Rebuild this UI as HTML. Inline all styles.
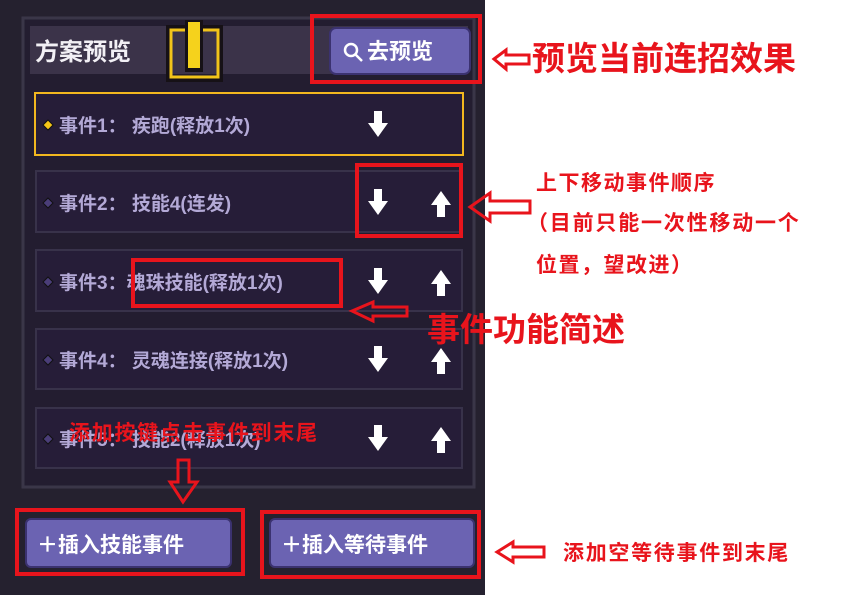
<!DOCTYPE html>
<html><head><meta charset="utf-8"><style>
html,body{margin:0;padding:0;background:#fff;}
body{width:846px;height:595px;overflow:hidden;position:relative;font-family:"Liberation Sans","Noto Sans CJK SC",sans-serif;}
svg text{font-family:"Liberation Sans","Noto Sans CJK SC",sans-serif;font-weight:bold;}
</style></head><body>
<svg width="846" height="595" viewBox="0 0 846 595" xmlns="http://www.w3.org/2000/svg">
<defs>
<g id="dn"><polygon points="-4,-14 4,-14 4,-2 10,-2 0,12 -10,-2 -4,-2" fill="#fff"/></g>
<g id="up"><polygon points="-4,14 4,14 4,2 10,2 0,-12 -10,2 -4,2" fill="#fff"/></g>
</defs>
<rect x="0" y="0" width="485" height="595" fill="#25212f"/>
<rect x="23" y="18" width="451" height="469" fill="#231d30" stroke="#3a3648" stroke-width="3"/>
<rect x="30" y="26" width="438" height="48" fill="#3b3349"/>
<text x="35" y="60" font-size="24" fill="#f2f0f5">方案预览</text>
<rect x="169" y="28" width="51" height="51" fill="none" stroke="#161116" stroke-width="6"/>
<rect x="171" y="30" width="47" height="47" fill="none" stroke="#f2c41a" stroke-width="3"/>
<rect x="185" y="20" width="18" height="52" fill="#161116"/>
<rect x="188" y="22" width="12" height="46" fill="#f5d21c"/>
<rect x="330" y="28" width="140" height="46" rx="6" fill="#6b63b2" stroke="#3b3270" stroke-width="2"/>
<circle cx="351" cy="50" r="6" fill="none" stroke="#fff" stroke-width="2.5"/>
<line x1="355" y1="54" x2="362" y2="61" stroke="#fff" stroke-width="2.5"/>
<text x="367" y="59" font-size="22" fill="#fff">去预览</text>
<rect x="35" y="93" width="428" height="62" fill="#261d38" stroke="#f2b71f" stroke-width="2"/>
<rect x="36" y="171" width="426" height="61" fill="#261d38" stroke="#38324a" stroke-width="2"/>
<rect x="36" y="250" width="426" height="61" fill="#261d38" stroke="#38324a" stroke-width="2"/>
<rect x="36" y="329" width="426" height="60" fill="#261d38" stroke="#38324a" stroke-width="2"/>
<rect x="36" y="408" width="426" height="60" fill="#261d38" stroke="#38324a" stroke-width="2"/>
<polygon points="48,120 53,125 48,130 43,125" fill="#f5c518" stroke="#111" stroke-width="1"/>
<polygon points="48,198 53,203 48,208 43,203" fill="#4a3d78" stroke="#111" stroke-width="1"/>
<polygon points="48,277 53,282 48,287 43,282" fill="#4a3d78" stroke="#111" stroke-width="1"/>
<polygon points="48,355 53,360 48,365 43,360" fill="#4a3d78" stroke="#111" stroke-width="1"/>
<polygon points="48,434 53,439 48,444 43,439" fill="#4a3d78" stroke="#111" stroke-width="1"/>
<g font-size="19" fill="#b3a9d6">
<text x="59" y="132">事件1：  疾跑(释放1次)</text>
<text x="59" y="210">事件2：  技能4(连发)</text>
<text x="59" y="289">事件3：魂珠技能(释放1次)</text>
<text x="59" y="367">事件4：  灵魂连接(释放1次)</text>
<text x="59" y="446">事件5：  技能2(释放1次)</text>
</g>
<use href="#dn" x="378" y="125"/>
<use href="#dn" x="378" y="203"/><use href="#up" x="441" y="203"/>
<use href="#dn" x="378" y="282"/><use href="#up" x="441" y="282"/>
<use href="#dn" x="378" y="360"/><use href="#up" x="441" y="360"/>
<use href="#dn" x="378" y="439"/><use href="#up" x="441" y="439"/>
<rect x="26" y="519" width="205" height="48" rx="5" fill="#6b63b2" stroke="#3b3270" stroke-width="2"/>
<rect x="270" y="519" width="204" height="48" rx="5" fill="#6b63b2" stroke="#3b3270" stroke-width="2"/>
<text x="37" y="552" font-size="21" fill="#fff">＋插入技能事件</text>
<text x="281" y="552" font-size="21" fill="#fff">＋插入等待事件</text>
<g fill="none" stroke="#e8141c" stroke-width="4">
<rect x="312" y="16" width="168" height="66"/>
<rect x="357" y="165" width="104" height="71"/>
<rect x="133" y="260" width="208" height="46"/>
<rect x="17" y="510" width="226" height="64"/>
<rect x="262" y="512" width="217" height="65"/>
</g>
<g fill="none" stroke="#e8141c" stroke-width="3">
<polygon points="494,59 506,50 506,55 529,55 529,64 506,64 506,69"/>
<polygon points="470,207 490,193 490,201 530,201 530,213 490,213 490,221"/>
<polygon points="352,311 373,302 373,307 407,307 407,316 373,316 373,321"/>
<polygon points="183,502 170,482 178,482 178,460 189,460 189,482 197,482"/>
<polygon points="497,552 513,542 513,547 544,547 544,557 513,557 513,562"/>
</g>
<g fill="#e8141c">
<text x="532" y="70" font-size="33">预览当前连招效果</text>
<text x="427" y="341" font-size="33">事件功能简述</text>
<text x="536" y="190" font-size="21" letter-spacing="1.5">上下移动事件顺序</text>
<text x="527" y="230" font-size="21" letter-spacing="1.8">（目前只能一次性移动一个</text>
<text x="536" y="272" font-size="21" letter-spacing="1.5">位置，望改进）</text>
<text x="69" y="440" font-size="21" letter-spacing="1.7">添加按键点击事件到末尾</text>
<text x="563" y="560" font-size="21" letter-spacing="1.7">添加空等待事件到末尾</text>
</g>
</svg>
</body></html>
